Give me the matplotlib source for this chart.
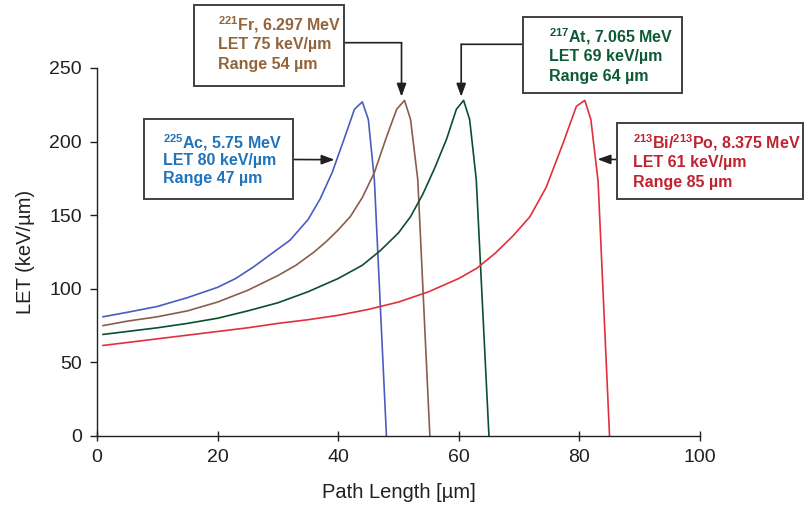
import matplotlib
matplotlib.use('Agg')
import matplotlib.pyplot as plt
from matplotlib.patches import Rectangle

plt.rcParams['font.family'] = ['Liberation Sans', 'DejaVu Sans']
plt.rcParams['mathtext.fontset'] = 'custom'
plt.rcParams['mathtext.bf'] = 'Liberation Sans:bold'
plt.rcParams['mathtext.rm'] = 'Liberation Sans'
plt.rcParams['mathtext.default'] = 'bf'

# DATA
ac_x = [1, 5, 10, 15, 20, 23, 26, 29, 32, 35, 37, 39, 41, 42.7, 44, 45, 46, 47, 48]
ac_y = [81, 84, 88, 94, 101, 107, 115, 124, 133, 147, 161, 179, 202, 222, 227, 215, 174, 87, 0]

fr_x = [1, 5, 10, 15, 20, 25, 30, 33, 36, 38, 40, 42, 44, 46, 48, 49.7, 51, 52, 53.2, 55.2]
fr_y = [75, 78, 81, 85, 91, 99, 109, 116, 125, 132, 140, 149, 162, 179, 203, 222, 228, 215, 174, 0]

at_x = [1, 5, 10, 15, 20, 25, 30, 35, 40, 44, 47, 50, 52, 54, 56, 58, 59.6, 60.8, 61.8, 62.9, 65]
at_y = [69, 71, 73.5, 76.5, 80, 85, 90.5, 98, 107, 116, 126, 138, 149, 164, 182, 202, 222, 228, 215, 174, 0]

bi_x = [1, 5, 10, 15, 20, 25, 30, 35, 40, 45, 50, 55, 60, 63, 66, 69, 71.8, 74.5, 77.3, 79.5, 80.9, 81.9, 83.1, 85]
bi_y = [61.5, 63.5, 66, 68.5, 71, 73.5, 76.5, 79, 82, 86, 91, 98, 107, 114, 124, 136, 149, 169, 199, 224, 228, 215, 173, 0]

labels = {
    'ac': ['$^{225}$Ac, 5.75 MeV', 'LET 80 keV/µm', 'Range 47 µm'],
    'fr': ['$^{221}$Fr, 6.297 MeV', 'LET 75 keV/µm', 'Range 54 µm'],
    'at': ['$^{217}$At, 7.065 MeV', 'LET 69 keV/µm', 'Range 64 µm'],
    'bi': ['$^{213}$Bi/$^{213}$Po, 8.375 MeV', 'LET 61 keV/µm', 'Range 85 µm'],
}

W, H = 807, 509
dark = '#231f20'

def fx(px):
    return px / W

def fy(py):
    return 1 - py / H

fig = plt.figure(figsize=(W / 100, H / 100), dpi=100)
ax = fig.add_axes([fx(97), fy(436), fx(700) - fx(97), fy(68) - fy(436)])

ax.plot(ac_x, ac_y, color='#4a5cc0', lw=1.2)
ax.plot(fr_x, fr_y, color='#8a5c4c', lw=1.2)
ax.plot(at_x, at_y, color='#0b4f2f', lw=1.2)
ax.plot(bi_x, bi_y, color='#e0303e', lw=1.2)

ax.set_xlim(0, 100)
ax.set_ylim(0, 250)
ax.set_xticks([0, 20, 40, 60, 80, 100])
ax.set_yticks([0, 50, 100, 150, 200, 250])
for s in ['top', 'right']:
    ax.spines[s].set_visible(False)
for s in ['left', 'bottom']:
    ax.spines[s].set_color(dark)
    ax.spines[s].set_linewidth(1.0)
ax.tick_params(axis='x', direction='inout', length=7, width=1, color=dark,
               labelsize=14, labelcolor=dark, pad=6)
ax.tick_params(axis='y', direction='out', length=5, width=1, color=dark,
               labelsize=14, labelcolor=dark, pad=6)
ax.set_xlabel('Path Length [µm]', fontsize=14.5, color=dark, labelpad=12)
ax.set_ylabel('LET (keV/µm)', fontsize=14.5, color=dark, labelpad=10)

# annotation boxes (pixel layout: left, top, right, bottom, text left, line centres)
boxes = [
    ('ac', '#1f74bb', (144, 119, 293, 199), 163, [143, 161, 179]),
    ('fr', '#93643a', (194, 5, 344, 86), 218, [25, 45, 65]),
    ('at', '#0e5a37', (523, 17, 682, 93), 549, [37, 57, 77]),
    ('bi', '#c0232f', (617, 123, 803, 199), 633, [143, 163, 183]),
]
for key, col, (l, t, r, b), tx, ys in boxes:
    fig.add_artist(Rectangle((fx(l), fy(b)), fx(r) - fx(l), fy(t) - fy(b),
                             transform=fig.transFigure, fill=False,
                             edgecolor='#404040', lw=1.4))
    for line, yy in zip(labels[key], ys):
        fig.text(fx(tx), fy(yy), line, color=col, fontsize=11.5,
                 fontweight='bold', ha='left', va='center')

arrow = dict(arrowstyle='-|>,head_length=0.6,head_width=0.22', color=dark,
             lw=1.2, mutation_scale=13, shrinkA=0, shrinkB=0)
plain = dict(arrowstyle='-', color=dark, lw=1.2, shrinkA=0, shrinkB=0)

# Ac: horizontal arrow from box to curve
ax.annotate('', xy=(39.4, 187.7), xytext=(fx(293), fy(159.5)),
            textcoords='figure fraction', arrowprops=arrow, annotation_clip=False)
# Bi: horizontal arrow from box to curve
ax.annotate('', xy=(83.0, 188), xytext=(fx(617), fy(159.5)),
            textcoords='figure fraction', arrowprops=arrow, annotation_clip=False)
# Fr: elbow connector
ax.annotate('', xy=(50.5, fy(42.7)), xycoords=('data', 'figure fraction'),
            xytext=(fx(344), fy(42.7)), textcoords='figure fraction',
            arrowprops=plain, annotation_clip=False)
ax.annotate('', xy=(50.5, 230.5), xytext=(50.5, fy(42.7)),
            textcoords=('data', 'figure fraction'), arrowprops=arrow,
            annotation_clip=False)
# At: elbow connector
ax.annotate('', xy=(60.4, fy(44.3)), xycoords=('data', 'figure fraction'),
            xytext=(fx(523), fy(44.3)), textcoords='figure fraction',
            arrowprops=plain, annotation_clip=False)
ax.annotate('', xy=(60.4, 230.5), xytext=(60.4, fy(44.3)),
            textcoords=('data', 'figure fraction'), arrowprops=arrow,
            annotation_clip=False)

fig.savefig('out.png', dpi=100)
